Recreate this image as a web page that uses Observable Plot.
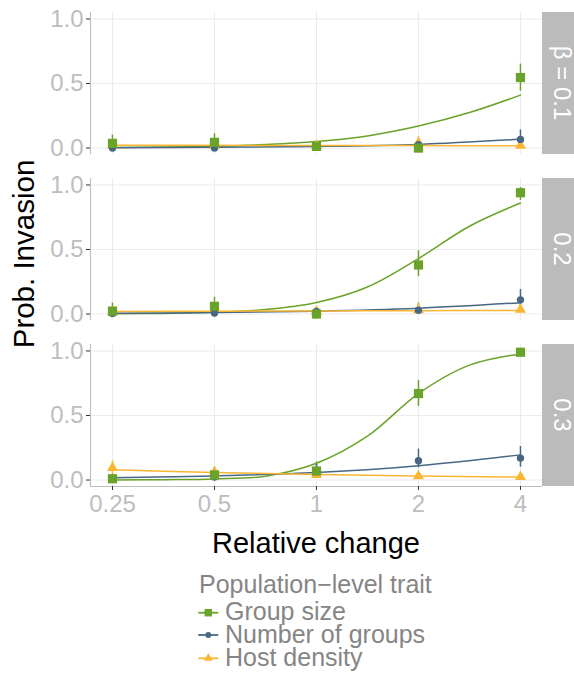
<!DOCTYPE html>
<html>
<head>
<meta charset="utf-8">
<script src="https://cdn.jsdelivr.net/npm/d3@7"></script>
<script src="https://cdn.jsdelivr.net/npm/@observablehq/plot@0.6"></script>
<style>
  html, body { margin: 0; padding: 0; background: white; }
  #wrap { position: relative; width: 574px; height: 675px; font-family: "Liberation Sans", Arial, sans-serif; }
</style>
</head>
<body>
<div id="wrap"></div>
<script>
// ---------- data ----------
const betaLevels = ["0.1", "0.2", "0.3"];
const stripLabels = ["β = 0.1", "0.2", "0.3"];
const traits = ["Group size", "Number of groups", "Host density"];
const traitColors = ["#6aa329", "#476785", "#fab632"];
const traitSymbols = ["square", "circle", "triangle"];
const relChange = [0.25, 0.5, 1, 2, 4];
const relChangeLabels = ["0.25", "0.5", "1", "2", "4"];
const yTicks = [0, 0.5, 1];
const yTickLabels = ["0.0", "0.5", "1.0"];
const fitXGroupSize = [0.25, 0.354, 0.5, 0.707, 1, 1.414, 2, 2.828, 4];

// rows: beta 0.1, 0.2, 0.3 ; columns: relChange
const groupSizeObs = [[0.036, 0.044, 0.013, 0.0, 0.546], [0.023, 0.06, 0.0, 0.38, 0.94], [0.01, 0.04, 0.07, 0.67, 0.99]];
const groupSizeLo  = [[0.0, 0.0, 0.0, 0.0, 0.44], [0.0, 0.01, 0.0, 0.29, 0.88], [0.0, 0.0, 0.03, 0.57, 0.97]];
const groupSizeHi  = [[0.1, 0.11, 0.05, 0.02, 0.65], [0.085, 0.13, 0.02, 0.49, 0.98], [0.03, 0.1, 0.14, 0.77, 1.0]];
const groupSizeFit = [[0.005, 0.008, 0.014, 0.027, 0.05, 0.094, 0.17, 0.275, 0.41],
                      [0.002, 0.005, 0.013, 0.035, 0.09, 0.21, 0.43, 0.68, 0.86],
                      [0.001, 0.003, 0.009, 0.03, 0.13, 0.34, 0.67, 0.89, 0.977]];

const numberGroupsObs = [[0.0, 0.0, 0.01, 0.025, 0.067], [0.005, 0.008, 0.02, 0.03, 0.11], [0.015, 0.023, 0.07, 0.15, 0.17]];
const numberGroupsLo  = [[0.0, 0.0, 0.0, 0.0, 0.02], [0.0, 0.0, 0.0, 0.0, 0.06], [0.0, 0.0, 0.03, 0.095, 0.1]];
const numberGroupsHi  = [[0.01, 0.01, 0.04, 0.05, 0.14], [0.02, 0.02, 0.04, 0.085, 0.19], [0.04, 0.05, 0.12, 0.24, 0.26]];
const numberGroupsFit = [[0.003, 0.006, 0.012, 0.028, 0.068], [0.006, 0.011, 0.022, 0.045, 0.088], [0.018, 0.032, 0.058, 0.11, 0.195]];

const hostDensityObs = [[0.02, 0.02, 0.02, 0.04, 0.02], [0.015, 0.04, 0.02, 0.03, 0.035], [0.095, 0.06, 0.04, 0.03, 0.025]];
const hostDensityLo  = [[0.0, 0.0, 0.0, 0.01, 0.0], [0.0, 0.0, 0.0, 0.0, 0.01], [0.04, 0.02, 0.01, 0.01, 0.005]];
const hostDensityHi  = [[0.05, 0.06, 0.05, 0.09, 0.05], [0.05, 0.1, 0.05, 0.085, 0.07], [0.15, 0.1, 0.07, 0.06, 0.05]];
const hostDensityFit = [[0.022, 0.021, 0.02, 0.019, 0.018], [0.02, 0.022, 0.024, 0.026, 0.028], [0.08, 0.058, 0.043, 0.031, 0.023]];

// ---------- tables ----------
const obsSets = [
  [groupSizeObs, groupSizeLo, groupSizeHi],
  [numberGroupsObs, numberGroupsLo, numberGroupsHi],
  [hostDensityObs, hostDensityLo, hostDensityHi]
];
const fitSets = [[groupSizeFit, fitXGroupSize], [numberGroupsFit, relChange], [hostDensityFit, relChange]];

const points = [];
traits.forEach((trait, t) => {
  const [m, lo, hi] = obsSets[t];
  betaLevels.forEach((beta, b) => {
    relChange.forEach((x, i) => points.push({trait, beta, x, y: m[b][i], lo: lo[b][i], hi: hi[b][i]}));
  });
});
const fits = [];
traits.forEach((trait, t) => {
  const [f, fx] = fitSets[t];
  betaLevels.forEach((beta, b) => {
    fx.forEach((x, i) => fits.push({trait, beta, x, y: f[b][i]}));
  });
});

const xDomain = [0.2153, 4.646];
const yDomain = [-0.05, 1.05];
const tickGray = "#bdbdbd";
const gridColor = "#ebebeb";

const dotMarks = [2, 1, 0].map(t => Plot.dot(points.filter(d => d.trait === traits[t]), {
  x: "x", y: "y", fy: "beta", symbol: traitSymbols[t], fill: traitColors[t], stroke: "none",
  r: [5.2, 3.7, 4.1][t]
}));

const plot = Plot.plot({
  width: 574,
  height: 560,
  marginLeft: 90,
  marginRight: 32,
  marginTop: 11,
  marginBottom: 73,
  style: {fontFamily: "'Liberation Sans', Arial, sans-serif", background: "white", overflow: "visible"},
  x: {type: "log", base: 2, domain: xDomain, label: null},
  y: {domain: yDomain, label: null},
  fy: {domain: betaLevels, paddingInner: 0.142, paddingOuter: 0, label: null, axis: null},
  color: {domain: traits, range: traitColors},
  marks: [
    Plot.gridX(relChange, {stroke: gridColor, strokeOpacity: 1, strokeWidth: 1.1}),
    Plot.gridY(yTicks, {stroke: gridColor, strokeOpacity: 1, strokeWidth: 1.1}),
    Plot.ruleX([xDomain[0]], {stroke: tickGray, strokeWidth: 1.1}),
    Plot.ruleY([{beta: betaLevels[2], y: yDomain[0]}], {y: "y", fy: "beta", stroke: tickGray, strokeWidth: 1.1}),
    Plot.axisY({
      ticks: yTicks, tickFormat: (d) => yTickLabels[yTicks.indexOf(d)],
      tickSize: 4, tickPadding: 3, stroke: "#333", fill: tickGray, fontSize: 24, label: null
    }),
    Plot.axisX({
      anchor: "bottom", ticks: relChange, tickFormat: (d) => relChangeLabels[relChange.indexOf(d)],
      tickSize: 4, tickPadding: 4, stroke: "#333", fill: tickGray, fontSize: 24, label: null
    }),
    Plot.line(fits, {x: "x", y: "y", z: "trait", stroke: "trait", fy: "beta", curve: "catmull-rom", strokeWidth: 1.5}),
    Plot.ruleX(points, {x: "x", y1: "lo", y2: "hi", fy: "beta", stroke: "trait", strokeWidth: 1.5}),
    ...dotMarks
  ]
});

document.getElementById("wrap").appendChild(plot);

// ---------- facet strips & axis titles ----------
const svg = d3.select(plot);
let fyApply, fyBand;
const fyScale = plot.scale("fy");
if (fyScale && fyScale.apply) {
  fyApply = fyScale.apply;
  fyBand = fyScale.bandwidth;
} else {
  const s = d3.scaleBand(betaLevels, [11, 487]).paddingInner(0.142).paddingOuter(0);
  fyApply = s; fyBand = s.bandwidth();
}
const strips = svg.append("g");
betaLevels.forEach((b, i) => {
  const y0 = fyApply(b);
  strips.append("rect")
    .attr("x", 574 - 32).attr("y", y0).attr("width", 32).attr("height", fyBand)
    .attr("fill", "#bbbbbb");
  strips.append("text")
    .attr("transform", `translate(${574 - 12},${y0 + fyBand / 2}) rotate(90)`)
    .attr("text-anchor", "middle")
    .attr("dominant-baseline", "central")
    .attr("font-size", 24)
    .attr("fill", "white")
    .text(stripLabels[i]);
});
svg.append("text")
  .attr("transform", `translate(34,${(fyApply(betaLevels[0]) + fyApply(betaLevels[2]) + fyBand) / 2 + 5}) rotate(-90)`)
  .attr("text-anchor", "middle")
  .attr("font-size", 29.5)
  .attr("fill", "black")
  .text("Prob. Invasion");
svg.append("text")
  .attr("x", (90 + 542) / 2).attr("y", 553)
  .attr("text-anchor", "middle")
  .attr("font-size", 29)
  .attr("fill", "black")
  .text("Relative change");

// ---------- legend (below the plot) ----------
const legend = d3.select("#wrap").append("svg")
  .attr("width", 574).attr("height", 115)
  .style("display", "block")
  .style("font-family", "'Liberation Sans', Arial, sans-serif");
legend.append("text").attr("x", 199).attr("y", 33.3).attr("font-size", 25).attr("fill", "#858585")
  .text("Population\u2212level trait");
const rowY = [52.7, 75, 98.3];
const textBase = [60, 82.7, 106.3];
traits.forEach((t, i) => {
  const g = legend.append("g").attr("transform", `translate(208.3,${rowY[i]})`);
  g.append("line").attr("x1", -10).attr("x2", 10).attr("stroke", traitColors[i]).attr("stroke-width", 1.8);
  g.append("path").attr("d", d3.symbol(d3[{square: "symbolSquare", circle: "symbolCircle", triangle: "symbolTriangle"}[traitSymbols[i]]], [56, 28, 34][i])())
    .attr("fill", traitColors[i]);
  legend.append("text").attr("x", 225).attr("y", textBase[i]).attr("font-size", 25).attr("fill", "#858585").text(t);
});
</script>
</body>
</html>
